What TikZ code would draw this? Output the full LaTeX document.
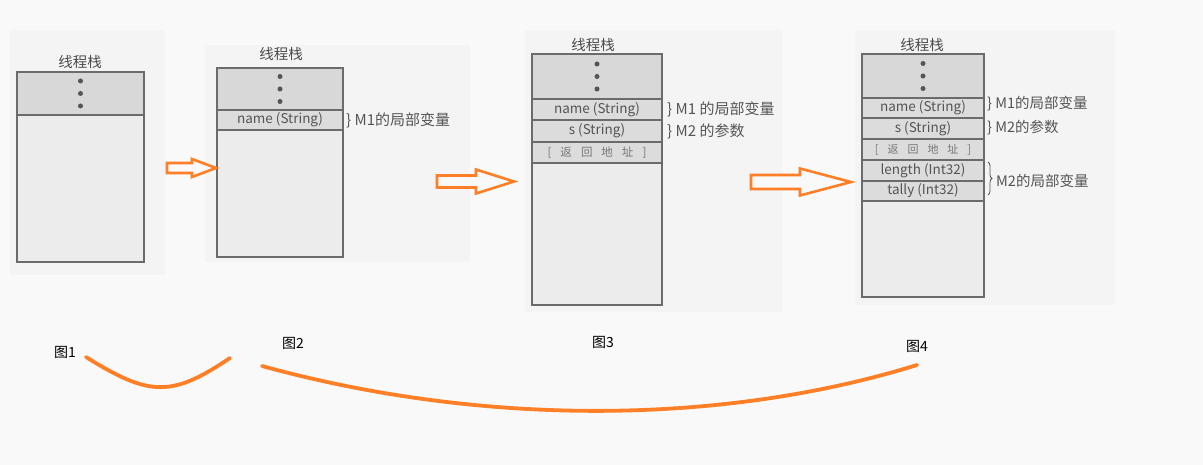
\documentclass[tikz,border=0pt]{standalone}
\usepackage{fontspec}
\setmainfont{Noto Sans CJK SC}
\usetikzlibrary{decorations.pathreplacing}
\definecolor{paper}{HTML}{F9F9F9}
\definecolor{scan}{HTML}{F4F4F4}
\definecolor{edge}{HTML}{6B6B6B}
\definecolor{topfill}{HTML}{D8D8D8}
\definecolor{rowfill}{HTML}{DCDCDC}
\definecolor{freefill}{HTML}{ECECEC}
\definecolor{ink}{HTML}{555555}
\definecolor{mark}{HTML}{FF7F27}
\newcommand{\fs}[1]{\fontsize{#1}{#1}\selectfont}
\tikzset{
  cell/.style={draw=edge, line width=1.8pt, inner sep=0pt, outer sep=0pt,
    anchor=north west, text=ink, font=\fs{13.5}},
  dotcell/.style={cell, fill=topfill},
  rowcell/.style={cell, fill=rowfill},
  freecell/.style={cell, fill=freefill},
  title/.style={text=ink!90!black, font=\fs{14.5}, inner sep=0pt},
  side/.style={text=ink, font=\fs{15}, anchor=west, inner sep=0pt},
  figlabel/.style={text=black, font=\fs{14}, inner sep=0pt},
  bigarrow/.style={draw=mark, line width=2.6pt, fill=paper, line join=miter},
  swoosh/.style={draw=mark, line width=3.8pt, line cap=round},
  stackdot/.style={circle, fill=ink, inner sep=0pt, minimum size=5pt},
}
\newcommand{\retaddr}{[\hspace{9pt}返\hspace{9pt}回\hspace{9pt}地\hspace{9pt}址\hspace{9pt}]}
\begin{document}
\begin{tikzpicture}[x=1pt, y=-1pt]
\useasboundingbox (0,0) rectangle (1203,465);
\fill[paper] (0,0) rectangle (1203,465);
% faint scanned page areas behind each stack
\fill[scan] (10,30) rectangle (165,275);
\fill[scan] (205,45) rectangle (470,262);
\fill[scan] (525,30) rectangle (782,312);
\fill[scan] (855,30) rectangle (1115,305);

% ---- stack 1
\node[title] (t1) at (80,62) {线程栈};
\node[dotcell, minimum width=127pt, minimum height=43pt] (s1dots) at (17,72) {};
\node[freecell, minimum width=127pt, minimum height=147pt] (s1free) at (17,115) {};
\foreach \k in {-12.5,0,12.5}
  \node[stackdot] at ([yshift=\k pt]s1dots.center) {};

% ---- stack 2
\node[title] (t2) at (281,54) {线程栈};
\node[dotcell, minimum width=126pt, minimum height=42pt] (s2dots) at (217,68) {};
\node[rowcell, minimum width=126pt, minimum height=20pt] (s2name) at (217,110) {name (String)};
\node[freecell, minimum width=126pt, minimum height=127pt] (s2free) at (217,130) {};
\foreach \k in {-12.5,0,12.5}
  \node[stackdot] at ([yshift=\k pt]s2dots.center) {};
\node[side] (l2a) at (346,120) {\} M1的局部变量};

% ---- stack 3
\node[title] (t3) at (593,45) {线程栈};
\node[dotcell, minimum width=130pt, minimum height=45pt] (s3dots) at (532,54) {};
\node[rowcell, minimum width=130pt, minimum height=21pt] (s3name) at (532,99) {name (String)};
\node[rowcell, minimum width=130pt, minimum height=22pt] (s3s) at (532,120) {s (String)};
\node[rowcell, minimum width=130pt, minimum height=21pt, font=\fs{11.5}, text=ink!80] (s3ret) at (532,142) {\retaddr};
\node[freecell, minimum width=130pt, minimum height=142pt] (s3free) at (532,163) {};
\foreach \k in {-12.5,0,12.5}
  \node[stackdot] at ([yshift=\k pt]s3dots.center) {};
\node[side] (l3a) at (667,109) {\} M1 的局部变量};
\node[side] (l3b) at (667,131) {\} M2 的参数};

% ---- stack 4
\node[title] (t4) at (922,45) {线程栈};
\node[dotcell, minimum width=122pt, minimum height=44pt] (s4dots) at (862,54) {};
\node[rowcell, minimum width=122pt, minimum height=20pt] (s4name) at (862,98) {name (String)};
\node[rowcell, minimum width=122pt, minimum height=21pt] (s4s) at (862,118) {s (String)};
\node[rowcell, minimum width=122pt, minimum height=21pt, font=\fs{11}, text=ink!80] (s4ret) at (862,139) {\retaddr};
\node[rowcell, minimum width=122pt, minimum height=21pt] (s4len) at (862,160) {length (Int32)};
\node[rowcell, minimum width=122pt, minimum height=20pt] (s4tally) at (862,181) {tally (Int32)};
\node[freecell, minimum width=122pt, minimum height=96pt] (s4free) at (862,201) {};
\foreach \k in {-12.5,0,12.5}
  \node[stackdot] at ([yshift=\k pt]s4dots.center) {};
\node[side, font=\fs{14.5}] (l4a) at (987,104) {\} M1的局部变量};
\node[side, font=\fs{14.5}] (l4b) at (987,128) {\} M2的参数};
\coordinate (b4top) at (988,162);
\coordinate (b4bot) at (988,195);
\draw[ink, line width=0.8pt, decorate, decoration={brace, amplitude=4pt}] (b4top) -- (b4bot);
\node[side, font=\fs{14.5}] (l4c) at (996,181) {M2的局部变量};

% ---- hollow arrows between stacks
\draw[bigarrow] (167,163) -- (192,163) -- (192,159) -- (216,168) -- (192,177) -- (192,173) -- (167,173) -- cycle;
\draw[bigarrow] (437,175.5) -- (476,175.5) -- (476,169.5) -- (514,181.5) -- (476,193.5) -- (476,187.5) -- (437,187.5) -- cycle;
\draw[bigarrow] (751,175) -- (800,175) -- (800,168.5) -- (851,182) -- (800,195.5) -- (800,189) -- (751,189) -- cycle;

% ---- figure captions and the strokes linking them
\node[figlabel] (f1) at (65,352) {图1};
\node[figlabel] (f2) at (293,343) {图2};
\node[figlabel] (f3) at (603,342) {图3};
\node[figlabel] (f4) at (917,346) {图4};
\coordinate (c1a) at (86,357);
\coordinate (c1b) at (230,358);
\coordinate (c2a) at (262,366);
\coordinate (c2b) at (917,365);
\draw[swoosh] (c1a) .. controls (150,397) and (172,397) .. (c1b);
\draw[swoosh] (c2a) .. controls (480,426) and (720,426) .. (c2b);
\end{tikzpicture}
\end{document}
